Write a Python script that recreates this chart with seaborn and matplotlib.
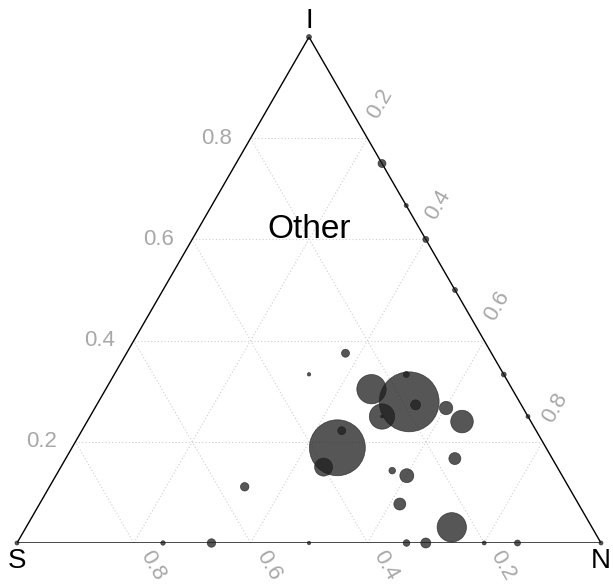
import numpy as np
import pandas as pd
import matplotlib
matplotlib.use("Agg")
import matplotlib.pyplot as plt
import seaborn as sns

# ---- data: compositions (S, N, I) and weight (area-proportional) ----
S_frac = [0.00, 0.00, 0.00, 0.00, 0.00, 0.00, 0.00, 0.00, 1.00,
          0.75, 0.667, 0.50, 0.333, 0.30, 0.20, 0.143,
          0.25, 0.333, 0.241, 0.189, 0.167, 0.181, 0.25, 0.25, 0.132, 0.118,
          0.357, 0.333, 0.40, 0.554, 0.286, 0.266, 0.167, 0.306, 0.24]
N_frac = [0.00, 0.25, 0.333, 0.40, 0.50, 0.667, 0.75, 1.00, 0.00,
          0.25, 0.333, 0.50, 0.667, 0.70, 0.80, 0.857,
          0.375, 0.333, 0.455, 0.532, 0.50, 0.546, 0.50, 0.50, 0.602, 0.642,
          0.454, 0.445, 0.45, 0.334, 0.571, 0.601, 0.667, 0.617, 0.729]
I_frac = [1.00, 0.75, 0.667, 0.60, 0.50, 0.333, 0.25, 0.00, 0.00,
          0.00, 0.00, 0.00, 0.00, 0.00, 0.00, 0.00,
          0.375, 0.333, 0.304, 0.279, 0.333, 0.273, 0.25, 0.25, 0.267, 0.240,
          0.188, 0.222, 0.15, 0.111, 0.143, 0.133, 0.167, 0.077, 0.031]
weight = [6, 16, 4, 9, 6, 6, 4, 4, 4,
          5, 18, 3, 11, 25, 4, 9,
          16, 3, 216, 900, 9, 25, 161, 2, 45, 128,
          784, 16, 81, 18, 11, 49, 36, 36, 216]

tick_values = [0.2, 0.4, 0.6, 0.8]
tick_labels = ["0.2", "0.4", "0.6", "0.8"]
vertex_labels = ["S", "N", "I"]
region_label = "Other"
region_pos = (0.19, 0.19, 0.62)  # (S, N, I)

H = np.sqrt(3) / 2
PX = 1 / 584.0  # one pixel in data units


def tern(s, n, i):
    s, n, i = np.asarray(s, float), np.asarray(n, float), np.asarray(i, float)
    tot = s + n + i
    n, i = n / tot, i / tot
    return n + i / 2, i * H


sns.set_theme(style="white")
plt.rcParams["font.family"] = ["Liberation Sans", "DejaVu Sans"]

W, Hpx = 613, 584
fig = plt.figure(figsize=(W / 100, Hpx / 100), dpi=100)
ax = fig.add_axes([17 / W, (Hpx - 543) / Hpx, 584 / W, 506 / Hpx])
ax.set_xlim(0, 1)
ax.set_ylim(0, H)
ax.axis("off")

grid_kw = dict(color="#cfcfcf", lw=0.8, ls=(0, (1, 2)), zorder=1)
lab_kw = dict(color="#a8a8a8", fontsize=16, ha="center", va="center",
              rotation_mode="anchor")
for v, lab in zip(tick_values, tick_labels):
    # constant I (horizontal)
    x, y = tern([1 - v, 0], [0, 1 - v], [v, v])
    ax.plot(x, y, **grid_kw)
    ax.text(x[0] - 34 * PX, y[0], lab, rotation=0, **lab_kw)
    # constant N (parallel to S-I edge)
    x, y = tern([1 - v, 0], [v, v], [0, 1 - v])
    ax.plot(x, y, **grid_kw)
    ax.text(x[1] + 12.6 * PX, y[1] + 34.4 * PX, lab, rotation=60, **lab_kw)
    # constant S (parallel to N-I edge)
    x, y = tern([v, v], [1 - v, 0], [0, 1 - v])
    ax.plot(x, y, **grid_kw)
    ax.text(x[0] + 18.5 * PX, y[0] - 23 * PX, lab, rotation=-60, **lab_kw)

# triangle border
bx, by = tern([1, 0, 0, 1], [0, 1, 0, 0], [0, 0, 1, 0])
ax.plot(bx, by, color="black", lw=1.0, zorder=2, solid_joinstyle="miter")

# points
px, py = tern(S_frac, N_frac, I_frac)
df = pd.DataFrame({"x": px, "y": py, "w": weight})
k = 2.07  # px radius^2 -> points^2 area
sns.scatterplot(data=df, x="x", y="y", size="w",
                sizes=(k * min(weight), k * max(weight)),
                size_norm=(min(weight), max(weight)),
                color="#1e1e1e", alpha=0.75, edgecolor="#1e1e1e",
                linewidth=0.5, legend=False, ax=ax, zorder=3)
for c in ax.collections:
    c.set_clip_on(False)

# vertex labels
vfs = 20
ax.text(0, -5 * PX, vertex_labels[0], fontsize=vfs, ha="center", va="top", color="black")
ax.text(1, -5 * PX, vertex_labels[1], fontsize=vfs, ha="center", va="top", color="black")
ax.text(0.5, H + 9 * PX, vertex_labels[2], fontsize=vfs, ha="center", va="baseline", color="black")

rx, ry = tern(*region_pos)
ax.text(float(rx), float(ry), region_label, fontsize=24, ha="center", va="center", color="black")

fig.savefig("out.png", dpi=100)
